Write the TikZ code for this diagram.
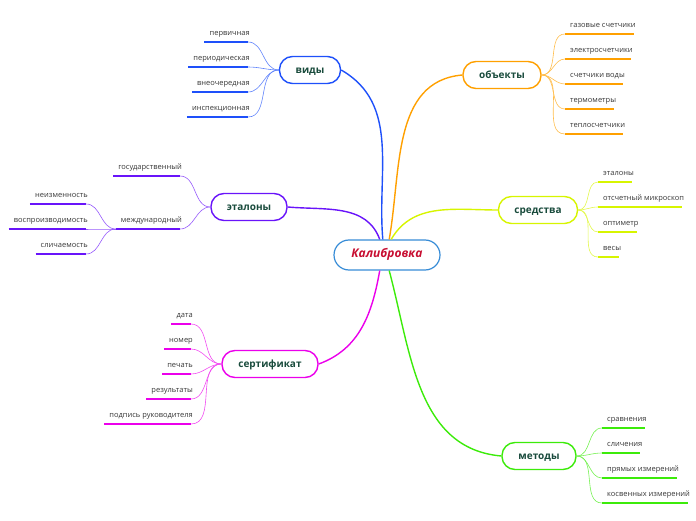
\documentclass[tikz,border=0pt]{standalone}
\usepackage{fontspec}
\setmainfont{Open Sans}
\usetikzlibrary{calc, positioning}

\definecolor{vidyc}{RGB}{30,80,250}
\definecolor{objc}{RGB}{255,160,0}
\definecolor{etalc}{RGB}{105,20,250}
\definecolor{sredc}{RGB}{215,245,0}
\definecolor{sertc}{RGB}{235,0,235}
\definecolor{metc}{RGB}{60,235,10}
\definecolor{kalc}{RGB}{55,140,215}
\definecolor{kaltext}{RGB}{200,15,50}
\definecolor{maintext}{RGB}{25,75,60}
\definecolor{leaftext}{RGB}{55,55,55}

\begin{document}
\begin{tikzpicture}[x=1pt, y=1pt,
  root/.style={draw=kalc, line width=1.2pt, rounded corners=15pt,
    minimum width=106pt, minimum height=30pt, fill=white, text=kaltext,
    text height=8.5pt, text depth=2.5pt,
    font=\fontsize{12}{14}\selectfont\bfseries\itshape},
  topic/.style={draw=#1, line width=1.4pt, rounded corners=13pt,
    minimum height=27pt, fill=white, text=maintext,
    text height=8pt, text depth=1pt,
    font=\fontsize{10}{12}\selectfont\bfseries},
  leaf/.style={text=leaftext, font=\fontsize{7.5}{9}\selectfont,
    inner xsep=5pt, inner ysep=5pt, text height=5.5pt, text depth=1.5pt,
    execute at end node={\kern-7pt},
    append after command={(\tikzlastnode.south west)
      edge[draw=#1, line width=2.2pt] (\tikzlastnode.south east)}},
  branch/.style={draw=#1, line width=1.4pt},
  twig/.style={draw=#1!70, line width=0.6pt},
]
\useasboundingbox (0,0) rectangle (696,520);

\node[root] (kal) at (387,265) {Калибровка};

\node[topic=vidyc, minimum width=61pt] (vidy) at (310,450) {виды};
\node[topic=objc, minimum width=78pt] (obj) at (502,445) {объекты};
\node[topic=etalc, minimum width=76pt] (etal) at (249,313) {эталоны};
\node[topic=sredc, minimum width=79pt] (sred) at (538,310) {средства};
\node[topic=sertc, minimum width=96pt] (sert) at (270,156) {сертификат};
\node[topic=metc, minimum width=74pt] (met) at (539,64) {методы};

\draw[branch=vidyc] (kal.105) to[out=95,in=-30] (vidy.east);
\draw[branch=objc] (kal.82) to[out=80,in=185] (obj.west);
\draw[branch=etalc] (etal.east) to[out=-5,in=110] (kal.115);
\draw[branch=sredc] (kal.75) to[out=60,in=180] (sred.west);
\draw[branch=sertc] (kal.-115) to[out=-100,in=20] (sert.east);
\draw[branch=metc] (kal.-82) to[out=-75,in=175] (met.west);

\node[leaf=vidyc, anchor=south east] (v1) at (248,478) {первичная};
\node[leaf=vidyc, anchor=south east] (v2) at (248,453) {периодическая};
\node[leaf=vidyc, anchor=south east] (v3) at (248,428) {внеочередная};
\node[leaf=vidyc, anchor=south east] (v4) at (248,403) {инспекционная};

\node[leaf=objc, anchor=south west] (o1) at (565,486) {газовые счетчики};
\node[leaf=objc, anchor=south west] (o2) at (565,461) {электросчетчики};
\node[leaf=objc, anchor=south west] (o3) at (565,436) {счетчики воды};
\node[leaf=objc, anchor=south west] (o4) at (565,411) {термометры};
\node[leaf=objc, anchor=south west] (o5) at (565,386) {теплосчетчики};

\node[leaf=etalc, anchor=south east] (e1) at (180,344) {государственный};
\node[leaf=etalc, anchor=south east] (e2) at (180,291) {международный};
\node[leaf=etalc, anchor=south east] (e21) at (86,316) {неизменность};
\node[leaf=etalc, anchor=south east] (e22) at (86,291) {воспроизводимость};
\node[leaf=etalc, anchor=south east] (e23) at (86,266) {сличаемость};

\node[leaf=sredc, anchor=south west] (s1) at (598,338) {эталоны};
\node[leaf=sredc, anchor=south west] (s2) at (598,313) {отсчетный микроскоп};
\node[leaf=sredc, anchor=south west] (s3) at (598,288) {оптиметр};
\node[leaf=sredc, anchor=south west] (s4) at (598,263) {весы};

\node[leaf=sertc, anchor=south east] (c1) at (191,196) {дата};
\node[leaf=sertc, anchor=south east] (c2) at (191,171) {номер};
\node[leaf=sertc, anchor=south east] (c3) at (191,146) {печать};
\node[leaf=sertc, anchor=south east] (c4) at (191,121) {результаты};
\node[leaf=sertc, anchor=south east] (c5) at (191,96) {подпись руководителя};

\node[leaf=metc, anchor=south west] (m1) at (602,92) {сравнения};
\node[leaf=metc, anchor=south west] (m2) at (602,67) {сличения};
\node[leaf=metc, anchor=south west] (m3) at (602,42) {прямых измерений};
\node[leaf=metc, anchor=south west] (m4) at (602,17) {косвенных измерений};

\foreach \n in {v1,v2,v3,v4}
  \draw[twig=vidyc] (\n.south east) to[out=0,in=180] (vidy.west);
\foreach \n in {o1,o2,o3,o4,o5}
  \draw[twig=objc] (obj.east) to[out=0,in=180] (\n.south west);
\foreach \n in {e1,e2}
  \draw[twig=etalc] (\n.south east) to[out=0,in=180] (etal.west);
\foreach \n in {e21,e22,e23}
  \draw[twig=etalc] (\n.south east) to[out=0,in=180] (e2.south west);
\foreach \n in {s1,s2,s3,s4}
  \draw[twig=sredc] (sred.east) to[out=0,in=180] (\n.south west);
\foreach \n in {c1,c2,c3,c4,c5}
  \draw[twig=sertc] (\n.south east) to[out=0,in=180] (sert.west);
\foreach \n in {m1,m2,m3,m4}
  \draw[twig=metc] (met.east) to[out=0,in=180] (\n.south west);
\end{tikzpicture}
\end{document}
